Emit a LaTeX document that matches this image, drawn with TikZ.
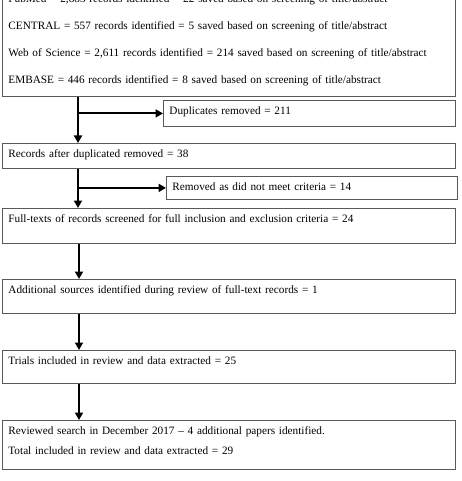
\documentclass[tikz,border=0pt]{standalone}
\usepackage{fontspec}
\setmainfont{Liberation Serif}
\usepackage{tikz}
\usetikzlibrary{positioning,arrows.meta}

\begin{document}
\begin{tikzpicture}[x=1pt,y=-1pt,>={Triangle[length=7.5pt,width=8pt]}]
    \tikzset{
        stage/.style={draw=black!65, line width=0.8pt, anchor=north west, text width=441pt, align=left,
            inner xsep=6pt, inner ysep=3pt, text height=11.5pt, font=\fontsize{11.25}{13}\selectfont},
        side/.style={stage, text width=279pt},
        flow/.style={->, line width=1.9pt}
    }
    \useasboundingbox (0,0) rectangle (461,481);

    \node[stage, text depth=90.5pt] (search) at (2,-12) {PubMed = 2,883 records identified = 22 saved based on screening of title/abstract\\[14pt]
        CENTRAL = 557 records identified = 5 saved based on screening of title/abstract\\[14pt]
        Web of Science = 2,611 records identified = 214 saved based on screening of title/abstract\\[14pt]
        EMBASE = 446 records identified = 8 saved based on screening of title/abstract};
    \node[side, text depth=8.5pt, text width=280pt] (dupl) at (163,100) {Duplicates removed = 211};
    \node[stage, text depth=7.5pt] (afterdup) at (2,143) {Records after duplicated removed = 38};
    \node[side, text depth=5.5pt] (removed) at (166,176) {Removed as did not meet criteria = 14};
    \node[stage, text depth=17.5pt] (fulltext) at (2,208) {Full-texts of records screened for full inclusion and exclusion criteria = 24};
    \node[stage, text depth=16.5pt] (extra) at (2,279) {Additional sources identified during review of full-text records = 1};
    \node[stage, text depth=15.5pt] (trials) at (2,350) {Trials included in review and data extracted = 25};
    \node[stage, text depth=31.5pt] (update) at (2,420) {Reviewed search in December 2017 -- 4 additional papers identified.\\[7pt]
        Total included in review and data extracted = 29};

    \coordinate (spine) at (78,0);
    \coordinate (spinelow) at (79,0);

    \draw[flow] (search.south -| spine) -- (afterdup.north -| spine);
    \draw[flow] (spine |- dupl.west) -- (dupl.west);
    \draw[flow] (afterdup.south -| spine) -- (fulltext.north -| spine);
    \draw[flow] (spine |- removed.west) -- (removed.west);
    \draw[flow] (fulltext.south -| spinelow) -- (extra.north -| spinelow);
    \draw[flow] (extra.south -| spinelow) -- (trials.north -| spinelow);
    \draw[flow] (trials.south -| spinelow) -- (update.north -| spinelow);
\end{tikzpicture}
\end{document}
